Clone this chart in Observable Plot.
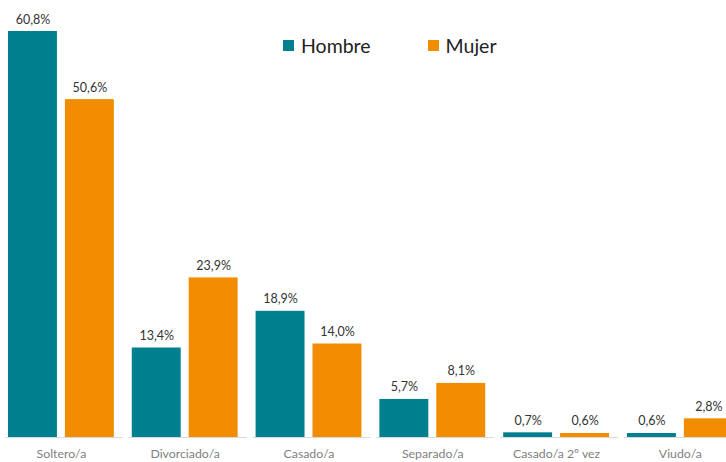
<!DOCTYPE html>
<html>
<head>
<meta charset="utf-8">
<script src="https://cdn.jsdelivr.net/npm/d3@7"></script>
<script src="https://cdn.jsdelivr.net/npm/@observablehq/plot@0.6"></script>
<style>
  html, body { margin: 0; padding: 0; background: #fff; overflow: hidden; }
  #wrap { position: relative; width: 726px; height: 462px; font-family: Lato, "Open Sans", sans-serif; }
  #legend { position: absolute; top: 34px; left: 283px; display: flex; align-items: center; font-size: 19.5px; color: #222; }
  #legend .item { display: flex; align-items: center; }
  #legend .sw { width: 11px; height: 11px; display: inline-block; margin-right: 7px; }
</style>
</head>
<body>
<div id="wrap"><div id="legend"></div></div>
<script>
const categories = ["Soltero/a", "Divorciado/a", "Casado/a", "Separado/a", "Casado/a 2º vez", "Viudo/a"];
const series = ["Hombre", "Mujer"];
const hombre = [60.8, 13.4, 18.9, 5.7, 0.7, 0.6];
const mujer = [50.6, 23.9, 14.0, 8.1, 0.6, 2.8];
const colors = ["#00808f", "#f28c00"];

const data = [];
categories.forEach((c, i) => {
  data.push({category: c, sex: "Hombre", value: hombre[i]});
  data.push({category: c, sex: "Mujer", value: mujer[i]});
});
const fmt = v => v.toFixed(1).replace(".", ",") + "%";

const chart = Plot.plot({
  width: 726,
  height: 462,
  marginLeft: -1,
  marginRight: -15.8,
  marginTop: 31,
  marginBottom: 25,
  style: {fontFamily: "Lato, 'Open Sans', sans-serif", background: "transparent"},
  fx: {domain: categories, paddingInner: 0.145, paddingOuter: 0.0726, round: false, label: null, axis: null},
  x: {domain: series, paddingInner: 0.14, paddingOuter: 0, round: false, axis: null},
  y: {domain: [0, 60.8], axis: null},
  color: {domain: series, range: colors},
  marks: [
    Plot.barY(data, {fx: "category", x: "sex", y: "value", fill: "sex"}),
    Plot.ruleY([0], {stroke: "#d9d9d9", strokeWidth: 1, insetLeft: -3, insetRight: -9}),
    Plot.text(data, {fx: "category", x: "sex", y: "value", text: d => fmt(d.value), lineAnchor: "bottom", dy: -8, fontSize: 12.5, fill: "#333"}),
    Plot.axisFx({domain: categories, anchor: "bottom", tickSize: 0, tickPadding: 12, fontSize: 12.3, color: "#7f7f7f", label: null})
  ]
});
document.getElementById("wrap").prepend(chart);

const legend = document.getElementById("legend");
series.forEach((s, i) => {
  const item = document.createElement("div");
  item.className = "item";
  if (i > 0) item.style.marginLeft = "57px";
  const sw = document.createElement("span");
  sw.className = "sw";
  sw.style.background = colors[i];
  item.appendChild(sw);
  item.appendChild(document.createTextNode(s));
  legend.appendChild(item);
});
</script>
</body>
</html>
